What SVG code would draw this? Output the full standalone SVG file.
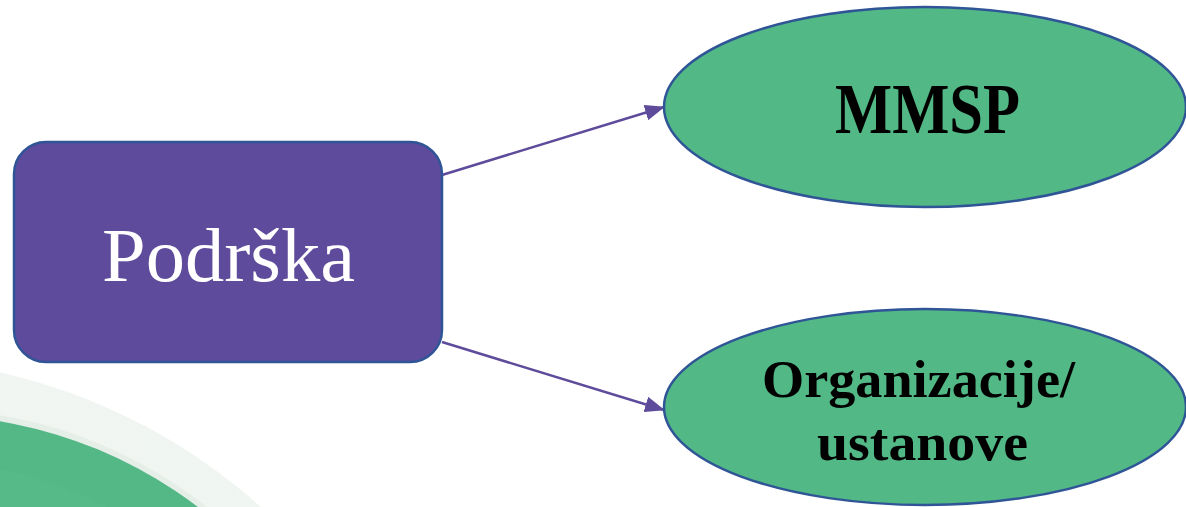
<svg xmlns="http://www.w3.org/2000/svg" width="1186" height="507" viewBox="0 0 1186 507">
  <style>
    .ell { fill: #52B986; stroke: #2F5597; stroke-width: 2.5; }
    .box { fill: #5F4B9B; stroke: #2F5597; stroke-width: 2.5; }
    .conn { stroke: #5F4B9B; stroke-width: 2.5; fill: none; }
    .lbl { font-family: "Liberation Serif", "DejaVu Serif", serif; }
  </style>
  <defs>
    <marker id="arrow" markerUnits="userSpaceOnUse" markerWidth="20" markerHeight="16" viewBox="0 0 20 16" refX="19" refY="8" orient="auto">
      <path d="M0,0 L20,8 L0,16 Z" fill="#5F4B9B"/>
    </marker>
    <linearGradient id="lightband" x1="0" y1="0" x2="1" y2="0">
      <stop offset="0" stop-color="#F3F6F4"/>
      <stop offset="1" stop-color="#EFF5F0"/>
    </linearGradient>
  </defs>
  <rect width="1186" height="507" fill="#FFFFFF"/>
  <g id="decoration">
    <circle cx="-124" cy="933" r="574" fill="url(#lightband)"/>
    <circle cx="-75" cy="864" r="455" fill="#E6EEE8"/>
    <circle cx="-75" cy="866" r="451" fill="#54B886"/>
    <circle cx="-90" cy="900" r="440" fill="#56BA88"/>
  </g>
  <g id="connectors">
    <line class="conn" x1="442" y1="175" x2="664" y2="107" marker-end="url(#arrow)"/>
    <line class="conn" x1="442" y1="342" x2="664" y2="410" marker-end="url(#arrow)"/>
  </g>
  <g id="node-podrska">
    <rect class="box" x="14" y="142" width="428" height="220" rx="32" ry="32"/>
    <text class="lbl" x="102" y="281" font-size="77" fill="#FFFFFF" textLength="253" lengthAdjust="spacingAndGlyphs">Podrška</text>
  </g>
  <g id="node-mmsp">
    <ellipse class="ell" cx="925" cy="107" rx="261" ry="100"/>
    <text class="lbl" x="835" y="133" font-size="72" font-weight="bold" fill="#000000" textLength="185" lengthAdjust="spacingAndGlyphs">MMSP</text>
  </g>
  <g id="node-organizacije">
    <ellipse class="ell" cx="925" cy="407" rx="261" ry="98"/>
    <text class="lbl" font-size="53" font-weight="bold" fill="#000000">
      <tspan x="762" y="397" textLength="313" lengthAdjust="spacingAndGlyphs">Organizacije/</tspan>
      <tspan x="817" y="460" textLength="211" lengthAdjust="spacingAndGlyphs">ustanove</tspan>
    </text>
  </g>
</svg>
